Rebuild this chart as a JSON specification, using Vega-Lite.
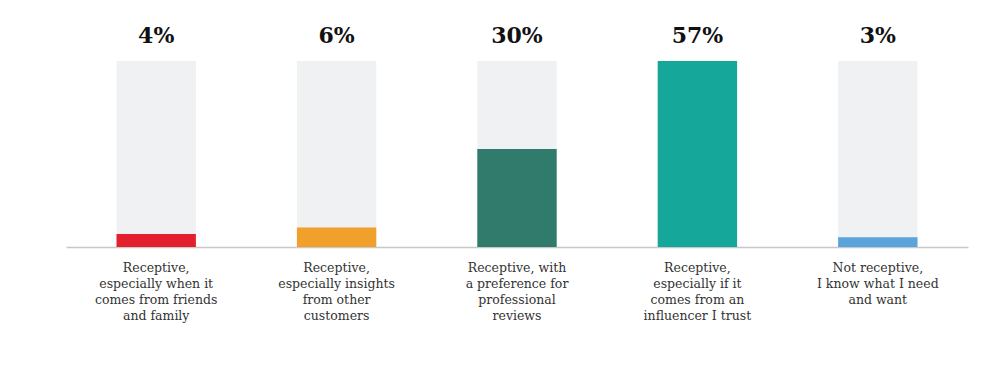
{
  "$schema": "https://vega.github.io/schema/vega-lite/v6.json",
  "width": 902,
  "height": 186,
  "autosize": {"type": "none"},
  "padding": {"left": 66, "top": 61, "right": 32, "bottom": 141},
  "background": "white",
  "config": {"view": {"stroke": null}, "font": "DejaVu Serif"},
  "data": {
    "values": [
      {"cat": "Receptive,|especially when it|comes from friends|and family", "value": 0.04, "color": "#E5202E"},
      {"cat": "Receptive,|especially insights|from other|customers", "value": 0.06, "color": "#F0A02B"},
      {"cat": "Receptive, with|a preference for|professional|reviews", "value": 0.30, "color": "#317B6D"},
      {"cat": "Receptive,|especially if it|comes from an|influencer I trust", "value": 0.57, "color": "#14A79A"},
      {"cat": "Not receptive,|I know what I need|and want", "value": 0.03, "color": "#5BA3DB"}
    ]
  },
  "transform": [{"joinaggregate": [{"op": "max", "field": "value", "as": "top"}]}],
  "encoding": {
    "x": {
      "field": "cat", "type": "nominal", "sort": null,
      "scale": {"paddingInner": 0.56, "paddingOuter": 0.28},
      "axis": {
        "title": null, "labelAngle": 0, "ticks": false,
        "domainColor": "#c8c8c8", "domainWidth": 1.5,
        "labelExpr": "split(datum.label, '|')",
        "labelFont": "DejaVu Serif", "labelFontSize": 12.5, "labelColor": "#333333",
        "labelLineHeight": 16, "labelPadding": 14, "labelBaseline": "top", "labelLimit": 200
      }
    }
  },
  "layer": [
    {
      "mark": {"type": "bar", "color": "#F0F1F3"},
      "encoding": {
        "y": {"field": "top", "type": "quantitative", "scale": {"domain": [0, 0.57], "nice": false}, "axis": null}
      }
    },
    {
      "mark": {"type": "bar"},
      "encoding": {
        "y": {"field": "value", "type": "quantitative"},
        "color": {"field": "color", "type": "nominal", "scale": null}
      }
    },
    {
      "mark": {"type": "text", "dy": -25, "baseline": "middle", "fontSize": 22, "fontWeight": "bold", "font": "DejaVu Serif", "color": "#111111"},
      "encoding": {
        "y": {"field": "top", "type": "quantitative"},
        "text": {"field": "value", "type": "quantitative", "format": ".0%"}
      }
    }
  ]
}
